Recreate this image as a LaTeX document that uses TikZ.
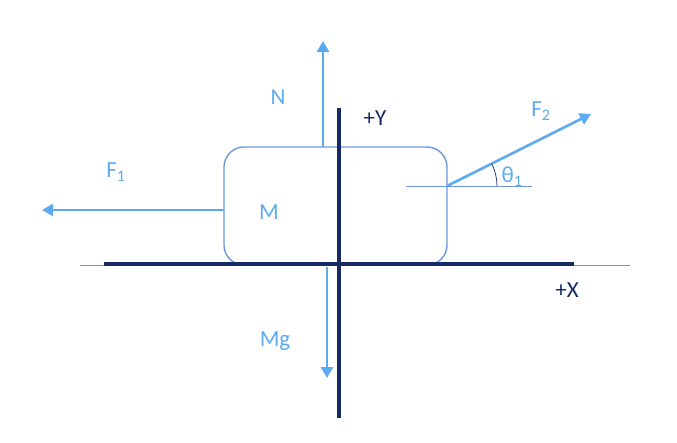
\documentclass[tikz,border=0pt]{standalone}
\usepackage{fontspec}
\setmainfont{Carlito}
\usetikzlibrary{arrows.meta,calc}
\definecolor{arrowblue}{RGB}{92,170,240}
\definecolor{boxblue}{RGB}{105,152,222}
\definecolor{navy}{RGB}{24,42,100}
\definecolor{thinblue}{RGB}{110,150,215}
\tikzset{
  force/.style={draw=arrowblue, line width=2.6pt, -{Triangle[length=11pt,width=12pt]}},
  axis/.style={draw=navy, line width=3.2pt},
  thin/.style={draw=thinblue, line width=0.9pt},
  flabel/.style={text=arrowblue, font=\fontsize{23}{27}\selectfont, inner sep=0pt},
  alabel/.style={text=navy, font=\fontsize{23}{27}\selectfont, inner sep=0pt},
}
\begin{document}
\begin{tikzpicture}[x=1pt,y=-1pt]
\useasboundingbox (0,0) rectangle (677,442);
% ground line
\coordinate (gl) at (80,265);
\coordinate (gr) at (630,265);
\draw[thin] (gl) -- (gr);
% box
\node[draw=boxblue, line width=1.4pt, rounded corners=20pt, minimum width=223pt, minimum height=118pt, inner sep=0pt] (box) at (335.5,206) {};
% axes
\coordinate (xl) at (104,264);
\coordinate (xr) at (574,264);
\coordinate (yt) at (339,108);
\coordinate (yb) at (339,418);
\draw[axis] (xl) -- (xr);
\draw[axis] (yt) -- (yb);
% N
\coordinate (Nbase) at (323,147);
\coordinate (Ntip) at (323,41);
\draw[force] (Nbase) -- (Ntip);
% F1
\coordinate (F1base) at (224,210);
\coordinate (F1tip) at (42,210);
\draw[force] (F1base) -- (F1tip);
% Mg
\coordinate (Mgbase) at (327,267);
\coordinate (Mgtip) at (327,378);
\draw[force] (Mgbase) -- (Mgtip);
% F2
\coordinate (F2base) at (447,186);
\coordinate (F2tip) at (591,114);
\draw[force] (F2base) -- (F2tip);
% reference line
\coordinate (rl) at (406,186);
\coordinate (rr) at (532,186);
\draw[thin] (rl) -- (rr);
% angle arc
\draw[draw=navy, line width=0.7pt] ($(F2base)+(50,0)$) arc[start angle=0, end angle=-26.4, radius=50];
% labels
\node[flabel] (lN) at (278,97) {N};
\node[alabel] (lY) at (375,118) {+Y};
\node[flabel] (lF1) at (116,172) {F\textsubscript{1}};
\node[flabel] (lM) at (269,212) {M};
\node[flabel] (lMg) at (275,341) {Mg};
\node[alabel] (lX) at (567,290) {+X};
\node[flabel] (lF2) at (541,111) {F\textsubscript{2}};
\node[flabel] (lth) at (512,177) {θ\textsubscript{1}};
\end{tikzpicture}
\end{document}
